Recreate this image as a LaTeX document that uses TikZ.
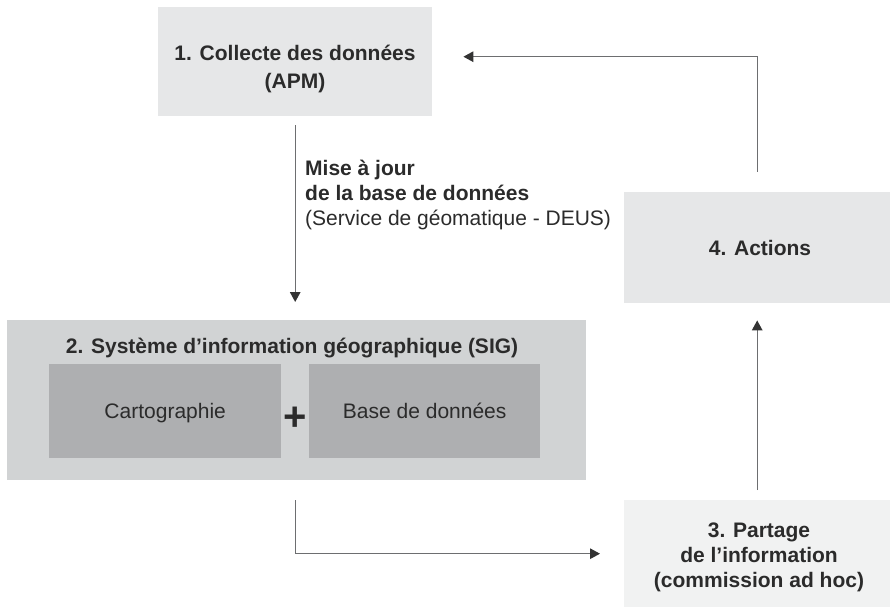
\documentclass[tikz,border=0pt]{standalone}
\usepackage{fontspec}
\setmainfont{Liberation Sans}
\usetikzlibrary{arrows.meta}
\definecolor{txt}{HTML}{2B2B2B}
\definecolor{boxlight}{HTML}{E6E7E8}
\definecolor{boxlighter}{HTML}{F1F2F2}
\definecolor{boxmid}{HTML}{D1D3D4}
\definecolor{boxdark}{HTML}{AEAFB1}
\definecolor{linecol}{HTML}{6D6E70}
\definecolor{tipcol}{HTML}{333333}
\begin{document}
\begin{tikzpicture}[x=1pt,y=-1pt,
  box/.style={draw=none, inner sep=0pt, anchor=north west, text=txt},
  lbl/.style={text=txt, align=center, inner sep=0pt},
  bfont/.style={font=\fontsize{21}{28}\selectfont\bfseries},
  conn/.style={draw=linecol, line width=1.4pt,
    -{Triangle[length=10pt,width=10.5pt,color=tipcol]}}]
\useasboundingbox (0,0) rectangle (892,607);
% boxes
\node[box, fill=boxlight, minimum width=274pt, minimum height=109pt] (n1) at (158,7) {};
\node[lbl, bfont] (t1) at (295,69) {1. Collecte des données\\(APM)};

\node[box, fill=boxmid, minimum width=579pt, minimum height=160pt] (n2) at (7,320) {};
\node[lbl, bfont] (t2) at (292,348) {2. Système d’information géographique (SIG)};
\node[box, fill=boxdark, minimum width=232pt, minimum height=94pt, text depth=0pt,
  font=\fontsize{21}{25}\selectfont] (n2a) at (49,364) {Cartographie};
\node[box, fill=boxdark, minimum width=231pt, minimum height=94pt, text depth=0pt,
  font=\fontsize{21}{25}\selectfont] (n2b) at (309,364) {Base de données};
\node[lbl, font=\fontsize{40}{40}\selectfont\bfseries] (plus) at (295,419) {+};

\node[box, fill=boxlight, minimum width=266pt, minimum height=111pt] (n4) at (624,192) {};
\node[lbl, bfont] (t4) at (760,248) {4. Actions};

\node[box, fill=boxlighter, minimum width=266pt, minimum height=107pt] (n3) at (624,500) {};
\node[lbl, font=\fontsize{21}{25}\selectfont\bfseries] (t3) at (759,557)
  {3. Partage\\de l’information\\(commission ad hoc)};

% label of the update arrow
\node[lbl, align=left, anchor=west, font=\fontsize{21}{25}\selectfont] (mj) at (305,195)
  {\textbf{Mise à jour}\\\textbf{de la base de données}\\(Service de géomatique - DEUS)};

% connectors
\draw[conn] ([yshift=-9pt]n1.south) -- ([yshift=18pt]n2.north -| n1.south);
\draw[conn] ([yshift=-20pt]n1.south |- n2.south) |- ([xshift=-24pt]n3.west);
\draw[conn] ([yshift=10pt]n3.north) -- ([yshift=-17pt]n4.south);
\draw[conn] ([yshift=20pt]n4.north) |- ([xshift=31pt,yshift=5pt]n1.east);
\end{tikzpicture}
\end{document}
